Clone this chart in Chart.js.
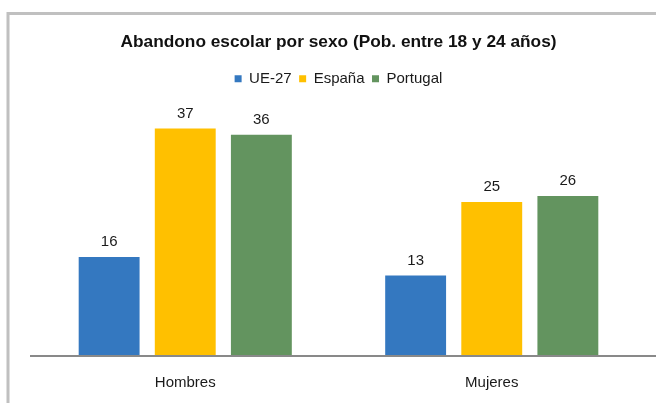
<!DOCTYPE html>
<html>
<head>
<meta charset="utf-8">
<script src="https://cdn.jsdelivr.net/npm/chart.js@4"></script>
<style>
  html, body { margin: 0; padding: 0; background: #fff; }
  #wrap { width: 656px; height: 403px; }
</style>
</head>
<body>
<div id="wrap"><canvas id="abandonoChart" width="656" height="403"></canvas></div>
<script>
// Datos del gráfico
const categorias = ['Hombres', 'Mujeres'];
const series = ['UE-27', 'España', 'Portugal'];
const valoresUE = [16, 13];
const valoresEspana = [37, 25];
const valoresPortugal = [36, 26];
const colores = ['#3478C0', '#FFC000', '#63945F'];

const FUENTE = '"Liberation Sans", Arial, sans-serif';

// Marco gris y línea del eje
const marcoPlugin = {
    id: 'marco',
    beforeDraw(chart) {
        const { ctx, width, height } = chart;
        ctx.save();
        ctx.fillStyle = '#fff';
        ctx.fillRect(0, 0, width, height);
        ctx.strokeStyle = '#C0C0C0';
        ctx.lineWidth = 3;
        ctx.beginPath();
        ctx.moveTo(8, height + 5);
        ctx.lineTo(8, 13.5);
        ctx.lineTo(width + 5, 13.5);
        ctx.stroke();
        ctx.restore();
    },
    afterDatasetsDraw(chart) {
        const { ctx, chartArea, width } = chart;
        ctx.save();
        ctx.strokeStyle = '#898989';
        ctx.lineWidth = 2;
        ctx.beginPath();
        ctx.moveTo(chartArea.left - 2, chartArea.bottom + 1);
        ctx.lineTo(width, chartArea.bottom + 1);
        ctx.stroke();
        ctx.restore();
    }
};

// Más espacio bajo la leyenda
const espacioLeyenda = {
    id: 'espacioLeyenda',
    afterInit(chart) {
        const legend = chart.legend;
        if (!legend) return;
        const fitOrig = legend.fit;
        legend.fit = function () {
            fitOrig.call(this);
            this.height += 14;
        };
    }
};

// Etiquetas de valor encima de las barras
const etiquetasPlugin = {
    id: 'etiquetas',
    afterDatasetsDraw(chart) {
        const { ctx } = chart;
        ctx.save();
        ctx.font = '15px ' + FUENTE;
        ctx.fillStyle = '#1a1a1a';
        ctx.textAlign = 'center';
        ctx.textBaseline = 'middle';
        chart.data.datasets.forEach((ds, i) => {
            chart.getDatasetMeta(i).data.forEach((bar, j) => {
                ctx.fillText(ds.data[j], bar.x, bar.y - 15);
            });
        });
        ctx.restore();
    }
};

new Chart(document.getElementById('abandonoChart'), {
    type: 'bar',
    data: {
        labels: categorias,
        datasets: [
            { label: series[0], data: valoresUE, backgroundColor: colores[0] },
            { label: series[1], data: valoresEspana, backgroundColor: colores[1] },
            { label: series[2], data: valoresPortugal, backgroundColor: colores[2] }
        ]
    },
    options: {
        responsive: false,
        animation: false,
        layout: { padding: { top: 32, left: 32, right: 11, bottom: -8 } },
        datasets: {
            bar: { barPercentage: 0.8, categoryPercentage: 0.745 }
        },
        plugins: {
            title: {
                display: true,
                text: 'Abandono escolar por sexo (Pob. entre 18 y 24 años)',
                color: '#111',
                font: { family: FUENTE, size: 17.3, weight: 'bold' },
                padding: { top: 0, bottom: 11 }
            },
            legend: {
                display: true,
                position: 'top',
                labels: {
                    color: '#1a1a1a',
                    font: { family: FUENTE, size: 15 },
                    boxWidth: 7,
                    boxHeight: 7,
                    padding: 7.5
                }
            },
            tooltip: { enabled: false }
        },
        scales: {
            x: {
                grid: { display: false, drawTicks: false },
                border: { display: false },
                ticks: {
                    color: '#1a1a1a',
                    padding: 19,
                    font: { family: FUENTE, size: 15 }
                }
            },
            y: {
                display: false,
                min: 0,
                max: 40
            }
        }
    },
    plugins: [marcoPlugin, espacioLeyenda, etiquetasPlugin]
});
</script>
</body>
</html>
